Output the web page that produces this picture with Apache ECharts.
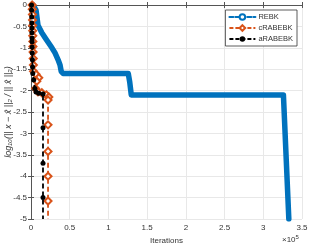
<!DOCTYPE html>
<html><head><meta charset="utf-8">
<script src="https://cdn.jsdelivr.net/npm/echarts@6/dist/echarts.min.js"></script>
<style>html,body{margin:0;padding:0;background:#fff}#c{width:309px;height:246px}</style>
</head><body><div id="c"></div>
<script>
// Data (iterations, log10 relative error)
const seriesNames = ['REBK', 'cRABEBK', 'aRABEBK'];
const rebkX = [2600, 6500, 7800, 9000, 14000, 19500, 27000, 31000, 35000, 37500, 39000, 41500, 125600, 127500, 129500, 326000, 333000];
const rebkY = [0, -0.12, -0.3, -0.47, -0.65, -0.8, -1.0, -1.12, -1.28, -1.4, -1.55, -1.6, -1.6, -1.8, -2.1, -2.1, -5];
const crabX = [1500, 1700, 1900, 2000, 2100, 2200, 2300, 2400, 2500, 2700, 2900, 3100, 3300, 6500, 10000, 7500, 6000, 9000, 14000, 20000, 23000, 22000, 22000, 22000, 22000, 22000, 22000];
const crabY = [0, -0.1, -0.22, -0.35, -0.48, -0.6, -0.72, -0.85, -0.97, -1.1, -1.25, -1.4, -1.55, -1.62, -1.7, -1.78, -1.95, -2.03, -2.05, -2.1, -2.15, -2.22, -2.8, -3.42, -4.0, -4.58, -5];
const arabX = [700, 800, 900, 1000, 1100, 1200, 1300, 1400, 1500, 1600, 1800, 2000, 2300, 3500, 5000, 6500, 10000, 15500, 15500, 15500, 15500, 15500];
const arabY = [0, -0.12, -0.28, -0.42, -0.54, -0.65, -0.77, -0.86, -0.98, -1.12, -1.28, -1.45, -1.6, -1.75, -1.95, -2.03, -2.06, -2.08, -2.87, -3.7, -4.5, -5];
const xTickLabels = ['0', '0.5', '1', '1.5', '2', '2.5', '3', '3.5'];
const yTickLabels = ['-5', '-4.5', '-4', '-3.5', '-3', '-2.5', '-2', '-1.5', '-1', '-0.5', '0'];
const yAxisTitle = 'log₁₀(|| x − x̂ ||₂ / || x̂ ||₂)';

function pairs(xs, ys, lastNoMarker) {
  return xs.map((x, i) => {
    const v = [x, ys[i]];
    if (lastNoMarker && i === xs.length - 1) return { value: v, symbol: 'none' };
    return v;
  });
}

const axisColor = '#555';
const textColor = '#333';
const font = 'Liberation Sans';
const chart = echarts.init(document.getElementById('c'), null, { renderer: 'canvas' });
chart.setOption({
  animation: false,
  backgroundColor: '#fff',
  grid: { left: 31, right: 7, top: 5, bottom: 27, containLabel: false, outerBoundsMode: 'none' },
  xAxis: [{
    type: 'value', min: 0, max: 350000, interval: 50000,
    name: 'Iterations', nameLocation: 'middle', nameGap: 16,
    nameTextStyle: { fontFamily: font, fontSize: 8, color: textColor },
    axisLine: { show: true, lineStyle: { color: axisColor, width: 1 } },
    axisTick: { show: true, inside: true, length: 3, lineStyle: { color: axisColor } },
    axisLabel: { fontFamily: font, fontSize: 8, color: textColor, margin: 5,
      formatter: v => xTickLabels[Math.round(v / 50000)] },
    splitLine: { show: true, lineStyle: { color: '#e8e8e8', width: 1 } }
  }, {
    type: 'value', position: 'top', min: 0, max: 350000, interval: 50000,
    axisLine: { show: true, lineStyle: { color: axisColor, width: 1 } },
    axisTick: { show: true, inside: true, length: 3, lineStyle: { color: axisColor } },
    axisLabel: { show: false }, splitLine: { show: false }
  }],
  yAxis: [{
    type: 'value', min: -5, max: 0, interval: 0.5,
    axisLine: { show: true, lineStyle: { color: axisColor, width: 1 } },
    axisTick: { show: true, inside: true, length: 3, lineStyle: { color: axisColor } },
    axisLabel: { fontFamily: font, fontSize: 8, color: textColor, margin: 4,
      formatter: v => yTickLabels[Math.round((v + 5) / 0.5)] },
    splitLine: { show: true, lineStyle: { color: '#e8e8e8', width: 1 } }
  }, {
    type: 'value', position: 'right', min: -5, max: 0, interval: 0.5,
    axisLine: { show: true, lineStyle: { color: axisColor, width: 1 } },
    axisTick: { show: true, inside: true, length: 3, lineStyle: { color: axisColor } },
    axisLabel: { show: false }, splitLine: { show: false }
  }],
  legend: {
    orient: 'vertical', right: 12, top: 10,
    data: seriesNames,
    backgroundColor: '#fff', borderColor: '#333', borderWidth: 0.8, borderRadius: 0,
    padding: [3, 4, 3, 3], itemGap: 3, itemWidth: 26, itemHeight: 7,
    lineStyle: { width: 2, type: [4, 2] },
    textStyle: { fontFamily: font, fontSize: 7.5, color: textColor, padding: [0, 0, 0, -2] }
  },
  graphic: [{
    type: 'text', left: 282, top: 234,
    style: {
      text: '×10{s|5}', fontFamily: font, fontSize: 8, fill: textColor,
      rich: { s: { fontSize: 6, verticalAlign: 'top', padding: [0, 0, 5, 0], fontFamily: font, fill: textColor } }
    }
  }, {
    type: 'text', x: 8, y: 112, rotation: Math.PI / 2,
    style: {
      text: yAxisTitle, fontFamily: font, fontSize: 9, fontStyle: 'italic', fill: textColor,
      align: 'center', verticalAlign: 'middle'
    }
  }],
  series: [{
    name: 'REBK', type: 'line', data: pairs(rebkX, rebkY, false),
    showSymbol: false, symbol: 'emptyCircle', symbolSize: 6,
    itemStyle: { color: '#0072BD', borderWidth: 1.5 },
    lineStyle: { color: '#0072BD', width: 5.5, cap: 'round', join: 'round' },
    z: 2
  }, {
    name: 'cRABEBK', type: 'line', data: pairs(crabX, crabY, true),
    symbol: 'emptyDiamond', symbolSize: 7,
    itemStyle: { color: '#D95319', borderWidth: 1.5 },
    lineStyle: { color: '#D95319', width: 1.8, type: [5, 3] },
    z: 3
  }, {
    name: 'aRABEBK', type: 'line', data: pairs(arabX, arabY, true),
    symbol: 'circle', symbolSize: 5,
    itemStyle: { color: '#000' },
    lineStyle: { color: '#000', width: 1.8, type: [5, 3] },
    z: 4
  }]
});
</script></body></html>
